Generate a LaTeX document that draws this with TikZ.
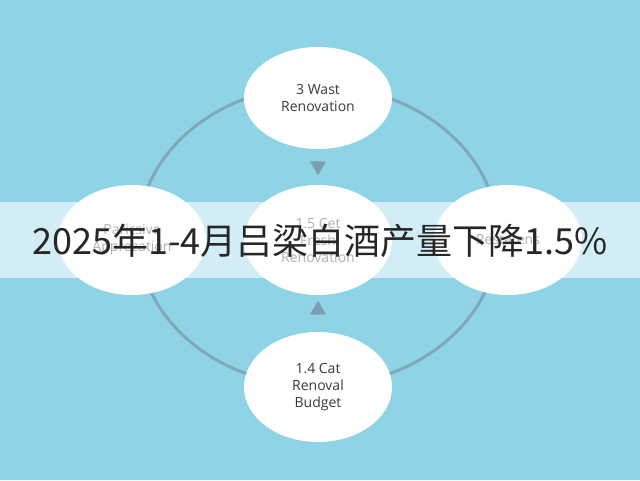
\documentclass[tikz,border=0pt]{standalone}
\usepackage{fontspec}
\setmainfont{Open Sans}
\newfontfamily\cjk{Noto Sans CJK SC}
\usetikzlibrary{shapes.geometric}
\definecolor{skyblue}{HTML}{8FD3E6}
\definecolor{ringgray}{HTML}{7C9FAF}
\definecolor{labelgray}{HTML}{3A3A3A}
\begin{document}
\begin{tikzpicture}[x=1pt,y=-1pt]
    \tikzset{bubble/.style={ellipse,fill=white,draw=none,minimum width=148pt,minimum height=110pt,inner sep=1pt,align=center,font=\fontsize{14}{17}\selectfont,text=labelgray},
             marker/.style={isosceles triangle,isosceles triangle apex angle=60,fill=ringgray,inner sep=0pt,minimum size=14pt}}
    \fill[skyblue] (0,0) rectangle (640,480);
    \useasboundingbox (0,0) rectangle (640,480);
    \coordinate (hub) at (318,236);
    \draw[ringgray,line width=3pt,opacity=0.8] (hub) ellipse [x radius=180, y radius=150];
    \node[bubble,minimum height=102pt] (top) at (318,98) {3 Wast\\Renovation};
    \node[bubble] (left) at (132,240) {Paricsive\\Apprezation};
    \node[bubble] (mid) at (318,240) {1.5 Cet\\Fresh\\Renovation};
    \node[bubble] (right) at (508,240) {Restatens};
    \node[bubble] (bottom) at (318,387) {1.4 Cat\\Renoval\\Budget};
    \node[marker,shape border rotate=-90] (down) at (318,166) {};
    \node[marker,shape border rotate=90] (up) at (318,310) {};
    \fill[white,opacity=0.6] (0,202) rectangle (640,278);
    \node[font=\cjk\fontsize{36}{40}\selectfont,text=black!85] (title) at (320,241) {2025年1-4月吕梁白酒产量下降1.5\%};
\end{tikzpicture}
\end{document}
